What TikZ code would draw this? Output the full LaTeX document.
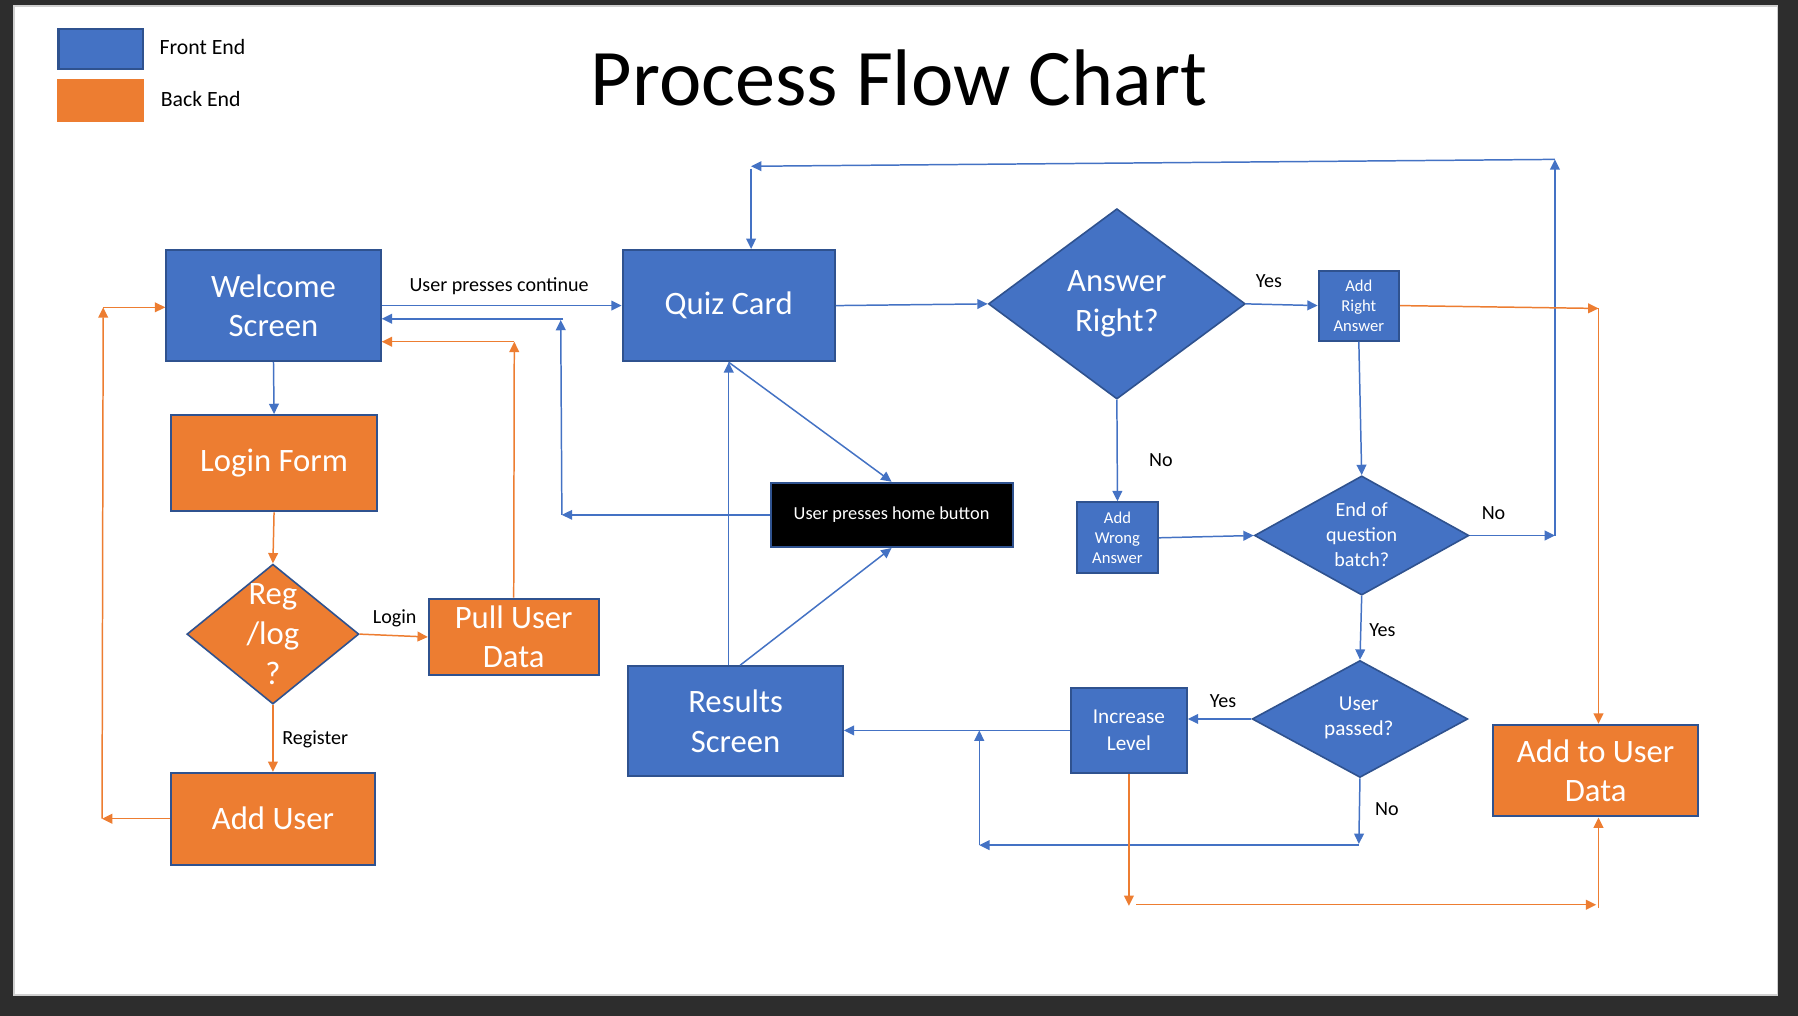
\documentclass[tikz,border=0pt]{standalone}
\usepackage{fontspec}
\setmainfont{Carlito}
\usetikzlibrary{arrows.meta,shapes.geometric,calc}
\definecolor{feblue}{HTML}{4472C4}
\definecolor{bordc}{HTML}{2F528F}
\definecolor{beorange}{HTML}{ED7D31}
\definecolor{darkbg}{HTML}{2D2D2D}
\definecolor{edgegray}{HTML}{D0D0D0}
\newcommand\fbig{\fontsize{28.5pt}{34.5pt}\selectfont}
\newcommand\fmid{\fontsize{17.5pt}{22pt}\selectfont}
\newcommand\fsml{\fontsize{14.5pt}{17.5pt}\selectfont}
\newcommand\flab{\fontsize{17.5pt}{21pt}\selectfont}
\newcommand\fhome{\fontsize{16pt}{19pt}\selectfont}
\newcommand\flegend{\fontsize{19pt}{22pt}\selectfont}
\newcommand\ftitle{\fontsize{70pt}{80pt}\selectfont}
\begin{document}
\begin{tikzpicture}[x=1pt,y=-1pt,
  box/.style={draw=bordc,line width=1.8pt,inner sep=0pt,align=center,text=white,font=\fbig},
  dia/.style={diamond,draw=bordc,line width=1.4pt,inner sep=0pt},
  txtw/.style={inner sep=0pt,align=center,text=white},
  lab/.style={inner sep=0pt,anchor=base west,font=\flab,text=black},
  barr/.style={draw=feblue,line width=1.3pt,-{Triangle[length=9pt,width=8.5pt]}},
  oarr/.style={draw=beorange,line width=1.3pt,-{Triangle[length=9pt,width=8.5pt]}}]
% background
\fill[darkbg] (0,0) rectangle (1568,886);
\draw[edgegray,line width=1.5pt,fill=white] (12,5) rectangle (1550,868);
% legend and title
\node[box,fill=feblue,minimum width=74pt,minimum height=35pt] (legF) at (88,42.5) {};
\node[box,fill=beorange,draw=none,minimum width=76pt,minimum height=37pt] (legB) at (88,87.5) {};
\node[lab,font=\flegend] (legFt) at (139,47.5) {Front End};
\node[lab,font=\flegend] (legBt) at (140,92.5) {Back End};
\node[lab,font=\ftitle] (title) at (515,92) {Process Flow Chart};
% boxes
\node[box,fill=feblue,minimum width=187pt,minimum height=97pt] (welcome) at (238.5,266.5) {Welcome\\Screen};
\node[box,fill=beorange,minimum width=180pt,minimum height=84pt] (login) at (239,404) {Login Form};
\node[dia,fill=beorange,minimum width=150pt,minimum height=122pt] (reg) at (238,553) {};
\node[txtw,font=\fbig] (regt) at (238,553) {Reg\\/log\\?};
\node[box,fill=beorange,minimum width=148pt,minimum height=67pt] (pull) at (448,555.5) {Pull User\\Data};
\node[box,fill=beorange,minimum width=178pt,minimum height=80pt] (adduser) at (238,714) {Add User};
\node[box,fill=feblue,minimum width=185pt,minimum height=97pt] (quiz) at (635.5,266.5) {Quiz Card};
\node[box,fill=black,font=\fhome,minimum width=211pt,minimum height=56pt] (home) at (777.5,449) {User presses home button};
\node[box,fill=feblue,minimum width=187pt,minimum height=96pt] (results) at (641.5,629) {Results\\Screen};
\node[dia,fill=feblue,minimum width=224pt,minimum height=166pt] (ans) at (974,265) {};
\node[txtw,font=\fbig] (anst) at (974,265) {Answer\\Right?};
\node[box,fill=feblue,font=\fsml,minimum width=70pt,minimum height=61pt] (addright) at (1185,266.5) {Add\\Right\\Answer};
\node[box,fill=feblue,font=\fsml,minimum width=71pt,minimum height=62pt] (addwrong) at (974.5,469) {Add\\Wrong\\Answer};
\node[dia,fill=feblue,minimum width=187pt,minimum height=104pt] (endb) at (1187.5,467) {};
\node[txtw,font=\fmid] (endbt) at (1187.5,466) {End of\\question\\batch?};
\node[dia,fill=feblue,minimum width=188pt,minimum height=102pt] (passed) at (1186,627) {};
\node[txtw,font=\fontsize{18.5pt}{22pt}\selectfont] (passedt) at (1185,626) {User\\passed?};
\node[box,fill=feblue,font=\fontsize{18.5pt}{23pt}\selectfont,minimum width=101pt,minimum height=74pt] (inc) at (984.5,637) {Increase\\Level};
\node[box,fill=beorange,minimum width=179pt,minimum height=80pt] (adddata) at (1391.5,672) {Add to User\\Data};
% free ends
\coordinate (hA) at (490,449);
\coordinate (hB) at (489,279);
\coordinate (hC) at (491,278);
\coordinate (pA) at (448.5,298);
\coordinate (aA) at (89,714);
\coordinate (aB) at (90,268);
\coordinate (eA) at (1356,467);
\coordinate (eB) at (1356,139);
\coordinate (eC) at (655,145);
\coordinate (eD) at (655,147);
\coordinate (rA) at (1394,269);
\coordinate (nA) at (1185,736);
\coordinate (nB) at (1185,737);
\coordinate (nC) at (854,737);
\coordinate (nD) at (854,637);
\coordinate (iA) at (984.5,790);
\coordinate (iB) at (991,789);
\coordinate (iC) at (1392,789);
\coordinate (iD) at (1394,792);
% left part
\draw[barr] (welcome.east) -- (quiz.west);
\node[lab] (lcont) at (357,254) {User presses continue};
\draw[barr] (home.west) -- (hA);
\draw[barr] (hA) -- (hB);
\draw[barr] (hC) -- (welcome.east |- hC);
\draw[oarr] (pull.north) -- (pA);
\draw[oarr] (pA) -- (welcome.east |- pA);
\draw[barr] (welcome.south) -- (login.north);
\draw[oarr] (login.south) -- (reg.north);
\draw[oarr] (reg.east) -- (pull.west);
\node[lab] (llogin) at (325,543.5) {Login};
\draw[oarr] (reg.south) -- (adduser.north);
\node[lab] (lreg) at (246,649) {Register};
\draw[oarr] (adduser.west) -- (aA);
\draw[oarr] (aA) -- (aB);
\draw[oarr] (aB) -- (welcome.west |- aB);
% middle
\draw[barr] (quiz.east) -- (ans.west);
\draw[barr] (quiz.south) -- (home.north);
\draw[barr] (results.north -| quiz.south) -- (quiz.south);
\draw[barr] ([xshift=4pt]results.north) -- (home.south);
% right part
\draw[barr] (ans.east) -- (addright.west);
\node[lab] (lyes1) at (1095,251) {Yes};
\draw[barr] (ans.south) -- (addwrong.north);
\node[lab] (lno1) at (1002,406.5) {No};
\draw[barr] (addwrong.east) -- (endb.west);
\draw[barr] (addright.south) -- (endb.north);
\draw[barr] (endb.east) -- (eA);
\node[lab] (lno2) at (1292,453) {No};
\draw[barr] (eA) -- (eB);
\draw[barr] (eB) -- (eC);
\draw[barr] (eD) -- (quiz.north -| eD);
\draw[oarr] (addright.east) -- (rA);
\draw[oarr] (rA) -- (adddata.north -| rA);
\draw[barr] (endb.south) -- (passed.north);
\node[lab] (lyes2) at (1194,555) {Yes};
\draw[barr] (passed.west) -- (inc.east |- passed.west);
\node[lab] (lyes3) at (1055,617) {Yes};
\draw[barr] (inc.west) -- (results.east |- inc.west);
\draw[barr] (passed.south) -- (nA);
\node[lab] (lno3) at (1199,711.5) {No};
\draw[barr] (nB) -- (nC);
\draw[barr] (nC) -- (nD);
\draw[oarr] (inc.south) -- (iA);
\draw[oarr] (iB) -- (iC);
\draw[oarr] (iD) -- (adddata.south -| iD);
\end{tikzpicture}
\end{document}
